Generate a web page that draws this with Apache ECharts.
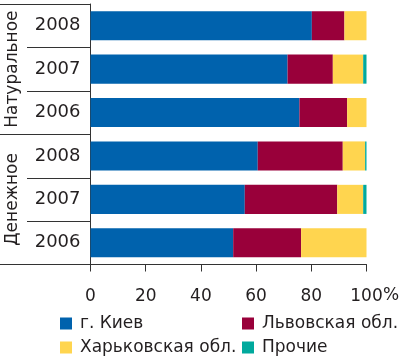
<!DOCTYPE html>
<html><head><meta charset="utf-8">
<script src="https://cdn.jsdelivr.net/npm/echarts@6/dist/echarts.min.js"></script>
<style>html,body{margin:0;padding:0;background:#fff}#c{width:400px;height:357px}</style>
</head><body><div id="c"></div>
<script>
const groups = ['Натуральное', 'Натуральное', 'Натуральное', 'Денежное', 'Денежное', 'Денежное'];
const years = ['2008', '2007', '2006', '2008', '2007', '2006'];
const groupNames = ['Натуральное', 'Денежное'];
const seriesNames = ['г. Киев', 'Львовская обл.', 'Харьковская обл.', 'Прочие'];
const kiev = [80.2, 71.4, 75.7, 60.6, 55.9, 51.7];
const lviv = [11.8, 16.4, 17.3, 30.8, 33.5, 24.6];
const kharkiv = [8.0, 11.0, 7.0, 8.1, 9.4, 23.7];
const other = [0, 1.2, 0, 0.5, 1.2, 0];
const xTicks = [0, 20, 40, 60, 80, 100];

const colors = ['#0062AD', '#99003A', '#FFD54F', '#00A99D'];
const FONT = 'DejaVu Sans';
const TXT = '#231f20';
const categories = groups.map((g, i) => g + ' ' + years[i]);
const values = [kiev, lviv, kharkiv, other];

const chart = echarts.init(document.getElementById('c'), null, {renderer: 'canvas'});
const legendPos = [[60, 315], [242, 315], [60, 339], [242, 339]];
const option = {
  animation: false,
  textStyle: {fontFamily: FONT},
  grid: {left: 90.5, right: 33.5, top: 4, bottom: 92.5},
  xAxis: {
    type: 'value', min: 0, max: 100, interval: 20,
    axisLine: {show: true, lineStyle: {color: '#333', width: 1}},
    axisTick: {show: true, length: 7, lineStyle: {color: '#333'}},
    splitLine: {show: false},
    axisLabel: {fontSize: 17, color: TXT, fontFamily: FONT, margin: 24,
      formatter: v => xTicks.indexOf(v) >= 0 ? String(v) : ''}
  },
  yAxis: {
    type: 'category', inverse: true, data: categories,
    axisLine: {show: true, lineStyle: {color: '#333', width: 1}},
    axisTick: {show: false},
    axisLabel: {fontSize: 18, color: TXT, fontFamily: FONT, margin: 10,
      formatter: (v, i) => years[i]}
  },
  legend: seriesNames.map((n, i) => ({
    data: [n], left: legendPos[i][0], top: legendPos[i][1], padding: 0,
    itemWidth: 12, itemHeight: 12, icon: 'rect', itemGap: 0,
    textStyle: {fontSize: 17, color: TXT, fontFamily: FONT, padding: [0, 0, 0, 3]}
  })),
  series: seriesNames.map((n, i) => ({
    name: n, type: 'bar', stack: 'total', data: values[i],
    barCategoryGap: '33%', itemStyle: {color: colors[i]}
  }))
};
chart.setOption(option);

// separators in label area, computed from the axis scale
const c0 = chart.convertToPixel({yAxisIndex: 0}, categories[0]);
const c1 = chart.convertToPixel({yAxisIndex: 0}, categories[1]);
const band = c1 - c0;
const x0 = chart.convertToPixel({xAxisIndex: 0}, 0);
const x100 = chart.convertToPixel({xAxisIndex: 0}, 100);
const bounds = [];
for (let k = 0; k <= categories.length; k++) bounds.push(c0 - band / 2 + k * band);
const els = [];
bounds.forEach((y, k) => {
  const full = (k === 0 || k === 3 || k === 6);
  els.push({type: 'line', shape: {x1: full ? 0 : 27, y1: Math.round(y) + 0.5, x2: x0, y2: Math.round(y) + 0.5},
    style: {stroke: '#333', lineWidth: 1}, silent: true});
});
groupNames.forEach((g, gi) => {
  const yc = (bounds[gi * 3] + bounds[gi * 3 + 3]) / 2;
  els.push({type: 'text', x: 13, y: yc, rotation: Math.PI / 2,
    style: {text: g, fontSize: 17, fontFamily: FONT, fill: TXT, align: 'center', verticalAlign: 'middle'}, silent: true});
});
els.push({type: 'text', x: x100 + 16.5, y: 296, style: {text: '%', fontSize: 17, fontFamily: FONT, fill: TXT, align: 'left', verticalAlign: 'middle'}});
chart.setOption({graphic: els});
</script></body></html>
